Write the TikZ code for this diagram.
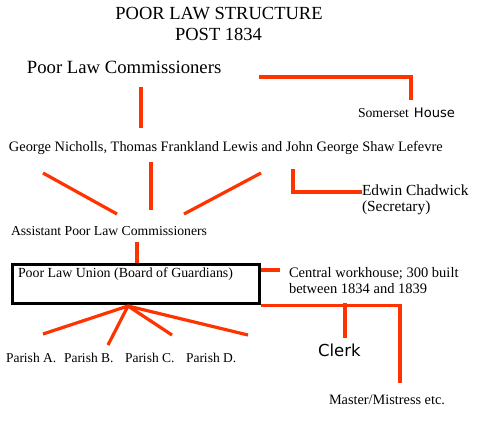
\documentclass[tikz,border=0pt]{standalone}
\usepackage{fontspec}
\setmainfont{Liberation Serif}
\newfontfamily\sansf{DejaVu Sans}
\begin{document}
\begin{tikzpicture}[x=1pt,y=-1pt,
  lbl/.style={anchor=base west,inner sep=0pt,outer sep=0pt},
  conn/.style={draw={rgb,255:red,255;green,51;blue,0},line width=3.2pt,line cap=butt,line join=miter},
  boxline/.style={draw=black,line width=3pt}]
\useasboundingbox (0,0) rectangle (500,421);
% texts
\node[anchor=base,inner sep=0pt,font=\fontsize{18.5}{21}\selectfont] (title1) at (219,19) {POOR LAW STRUCTURE};
\node[anchor=base,inner sep=0pt,font=\fontsize{18.5}{21}\selectfont] (title2) at (218.5,40) {POST 1834};
\node[lbl,font=\fontsize{18.7}{21}\selectfont] (plc) at (27,73) {Poor Law Commissioners};
\node[lbl] (som) at (358,117) {{\fontsize{13.7}{16}\selectfont Somerset}\hspace{5pt}{\sansf\fontsize{13.1}{16}\selectfont House}};
\node[lbl,font=\fontsize{14.4}{16}\selectfont] (geo) at (9,151) {George Nicholls, Thomas Frankland Lewis and John George Shaw Lefevre};
\node[lbl,font=\fontsize{15.4}{17}\selectfont] (edw) at (362,195) {Edwin Chadwick};
\node[lbl,font=\fontsize{15.4}{17}\selectfont] (sec) at (362,211) {(Secretary)};
\node[lbl,font=\fontsize{13.7}{16}\selectfont] (apl) at (11,235) {Assistant Poor Law Commissioners};
\node[lbl,font=\fontsize{13.9}{16}\selectfont] (plu) at (18,277) {Poor Law Union (Board of Guardians)};
\node[lbl,font=\fontsize{14.5}{16}\selectfont] (cw1) at (289,277) {Central workhouse; 300 built};
\node[lbl,font=\fontsize{14.5}{16}\selectfont] (cw2) at (289,293) {between 1834 and 1839};
\node[lbl,font=\sansf\fontsize{16.5}{19}\selectfont] (clerk) at (318,356) {Clerk};
\node[lbl,font=\fontsize{14.3}{16}\selectfont] (mas) at (329,404) {Master/Mistress etc.};
\node[lbl,font=\fontsize{13.5}{16}\selectfont] (pa) at (6,362) {Parish A.};
\node[lbl,font=\fontsize{13.5}{16}\selectfont] (pb) at (64,362) {Parish B.};
\node[lbl,font=\fontsize{13.5}{16}\selectfont] (pc) at (125,362) {Parish C.};
\node[lbl,font=\fontsize{13.5}{16}\selectfont] (pd) at (186,362) {Parish D.};
% box
\node[boxline,draw,minimum width=247pt,minimum height=38.5pt,inner sep=0pt,anchor=north west] (box) at (11,263) {};
% coordinates
\coordinate (s1) at (259,77);
\coordinate (s2) at (411,77);
\coordinate (s3) at (411,100);
\coordinate (v1) at (141,87);
\coordinate (v2) at (141,128);
\coordinate (fl1) at (43,173);
\coordinate (fl2) at (117,214);
\coordinate (fc1) at (151,162);
\coordinate (fc2) at (151,210);
\coordinate (fr1) at (261,173);
\coordinate (fr2) at (184,214);
\coordinate (c1) at (293,169);
\coordinate (c2) at (293,192);
\coordinate (c3) at (362,192);
\coordinate (a1) at (137,242);
\coordinate (w1) at (280,270);
\coordinate (b1) at (400,303);
\coordinate (b2) at (400,383);
\coordinate (k1) at (345,303);
\coordinate (k2) at (345,338);
\coordinate (apex) at (128,306);
\coordinate (ea) at (43,334);
\coordinate (eb) at (108,345);
\coordinate (ec) at (172,335);
\coordinate (ed) at (248,335);
% connectors
\draw[conn] (s1) -- (s2) -- (s3);
\draw[conn] (v1) -- (v2);
\draw[conn] (fl1) -- (fl2);
\draw[conn] (fc1) -- (fc2);
\draw[conn] (fr1) -- (fr2);
\draw[conn] (c1) -- (c2) -- (c3);
\draw[conn] (a1) -- (box.north -| a1);
\draw[conn] (box.east |- w1) -- (w1);
\draw[conn] (box.south east) ++(0,1) coordinate (bb) (bb) -- (bb -| b1) -- (b2);
\draw[conn] (k1) -- (k2);
\draw[conn] (apex) -- (ea);
\draw[conn] (apex) -- (eb);
\draw[conn] (apex) -- (ec);
\draw[conn] (apex) -- (ed);
\end{tikzpicture}
\end{document}
